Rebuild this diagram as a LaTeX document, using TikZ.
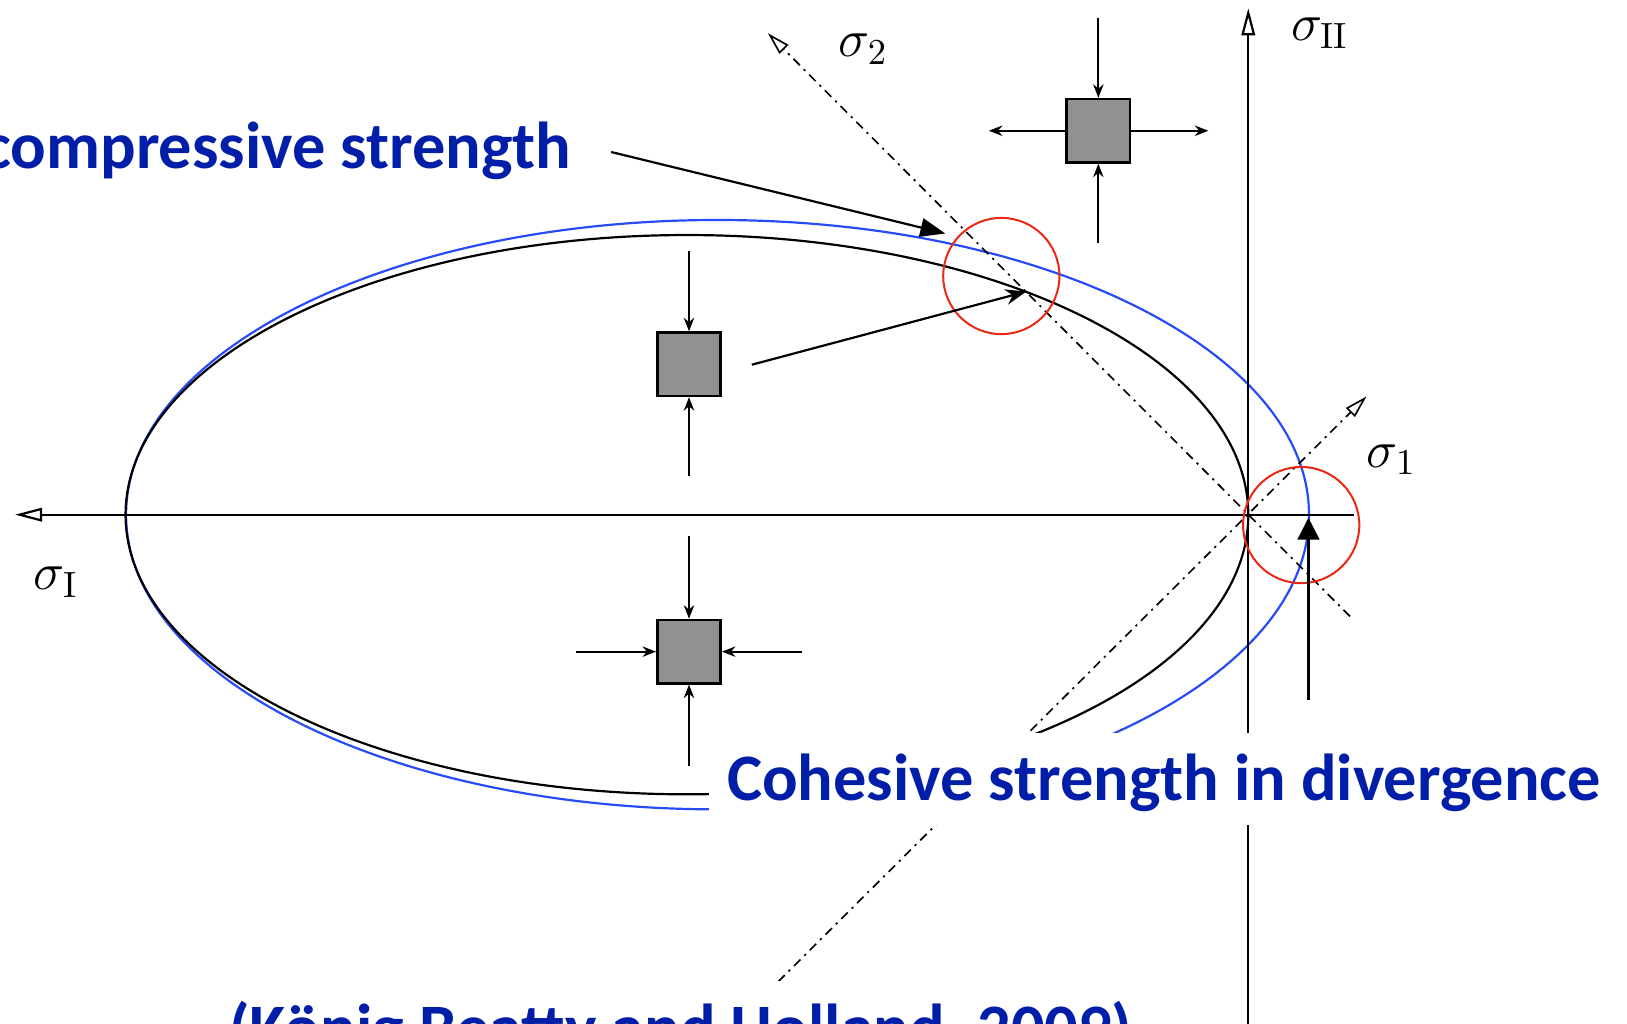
\documentclass[tikz,border=0pt]{standalone}
\usepackage{fontspec}
\newfontfamily\notefont{Carlito}
\usetikzlibrary{arrows.meta}
\definecolor{noteblue}{RGB}{0,30,168}
\definecolor{curveblue}{RGB}{40,75,250}
\definecolor{ringred}{RGB}{235,40,20}
\definecolor{elemgray}{RGB}{145,145,145}
\tikzset{
 axisline/.style={line width=0.6pt,-{Triangle[open,length=0.26cm,width=0.13cm]}},
 dirline/.style={line width=0.45pt,dash pattern=on 2.5pt off 1.5pt on 0.6pt off 1.5pt,
   -{Triangle[open,length=0.22cm,width=0.12cm]}},
 envelope/.style={line width=0.6pt},
 element/.style={draw,line width=0.7pt,fill=elemgray,minimum size=0.61cm,inner sep=0},
 loadarrow/.style={line width=0.55pt,-{Stealth[length=0.13cm,width=0.1cm]}},
 markring/.style={draw=ringred,line width=0.55pt},
 note/.style={text=noteblue,font=\notefont\bfseries\fontsize{18.2pt}{22pt}\selectfont},
 stresslabel/.style={font=\Large}
}
\begin{document}
\begin{tikzpicture}
 \useasboundingbox (0,0) rectangle (15.68,9.86);
 % failure envelopes
 \draw[envelope,curveblue] (6.915,4.90) ellipse [x radius=5.70, y radius=2.84];
 \draw[envelope] (6.62,4.90) ellipse [x radius=5.41, y radius=2.695];
 % principal stress axes
 \coordinate (O) at (12.03,4.90);
 \coordinate (xEnd) at (13.05,4.90);
 \coordinate (xTip) at (0.145,4.90);
 \coordinate (yEnd) at (12.03,-0.10);
 \coordinate (yTip) at (12.03,9.78);
 \draw[axisline] (xEnd) -- (xTip);
 \draw[axisline] (yEnd) -- (yTip);
 \coordinate (dTwoEnd) at (13.01,3.92);
 \coordinate (dTwoTip) at (7.40,9.54);
 \coordinate (dOneEnd) at (7.50,0.40);
 \coordinate (dOneTip) at (13.17,6.04);
 \draw[dirline] (dTwoEnd) -- (dTwoTip);
 \draw[dirline] (dOneEnd) -- (dOneTip);
 \node[stresslabel] (lblSII) at (12.72,9.54) {$\sigma_{\mathrm{II}}$};
 \node[stresslabel] (lblSI) at (0.54,4.25) {$\sigma_{\mathrm{I}}$};
 \node[stresslabel] (lblSTwo) at (8.32,9.39) {$\sigma_2$};
 \node[stresslabel] (lblSOne) at (13.41,5.43) {$\sigma_1$};
 % stress states
 \node[element] (sqTop) at (10.585,8.60) {};
 \node[element] (sqMid) at (6.64,6.35) {};
 \node[element] (sqLow) at (6.64,3.58) {};
 \coordinate (tN) at (10.585,9.69);
 \coordinate (tS) at (10.585,7.515);
 \coordinate (tW) at (9.53,8.60);
 \coordinate (tE) at (11.645,8.60);
 \draw[loadarrow] (tN) -- (sqTop.north);
 \draw[loadarrow] (tS) -- (sqTop.south);
 \draw[loadarrow] (sqTop.west) -- (tW);
 \draw[loadarrow] (sqTop.east) -- (tE);
 \coordinate (mN) at (6.64,7.44);
 \coordinate (mS) at (6.64,5.27);
 \draw[loadarrow] (mN) -- (sqMid.north);
 \draw[loadarrow] (mS) -- (sqMid.south);
 \coordinate (lN) at (6.64,4.69);
 \coordinate (lS) at (6.64,2.48);
 \coordinate (lW) at (5.55,3.58);
 \coordinate (lE) at (7.73,3.58);
 \draw[loadarrow] (lN) -- (sqLow.north);
 \draw[loadarrow] (lS) -- (sqLow.south);
 \draw[loadarrow] (lW) -- (sqLow.west);
 \draw[loadarrow] (lE) -- (sqLow.east);
 % highlighted points
 \draw[markring] (9.65,7.20) circle (0.56);
 \draw[markring] (12.54,4.80) circle (0.56);
 % annotations
 \node[note,anchor=base east,inner sep=0] (compNote) at (5.51,8.24) {compressive strength};
 \coordinate (compFrom) at (5.89,8.395);
 \coordinate (compTo) at (9.11,7.61);
 \draw[line width=0.6pt,-{Triangle[length=0.24cm,width=0.18cm]}] (compFrom) -- (compTo);
 \coordinate (midFrom) at (7.245,6.345);
 \coordinate (midTo) at (9.89,7.05);
 \draw[line width=0.6pt,-{Stealth[length=0.2cm,width=0.15cm]}] (midFrom) -- (midTo);
 \coordinate (cohFrom) at (12.61,3.11);
 \coordinate (cohTo) at (12.61,4.87);
 \draw[line width=0.6pt,-{Triangle[length=0.21cm,width=0.21cm]}] (cohFrom) -- (cohTo);
 \node[note,fill=white,anchor=base west,inner xsep=0.17cm,inner ysep=0,
   text height=0.65cm,text depth=0.24cm] (cohNote) at (6.83,2.15) {Cohesive strength in divergence};
 \node[note,fill=white,anchor=base west,inner xsep=0.1cm,inner ysep=0,
   text height=0.67cm,text depth=0.2cm] (refNote) at (2.10,-0.26) {(König Beatty and Holland, 2009)};
\end{tikzpicture}
\end{document}
